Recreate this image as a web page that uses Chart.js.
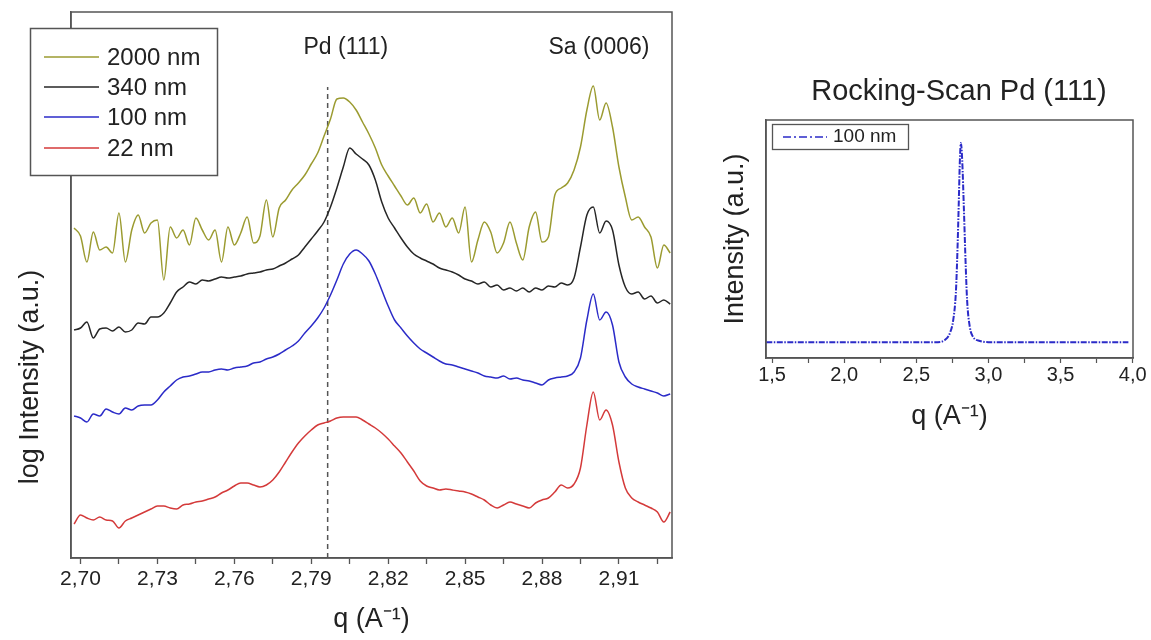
<!DOCTYPE html>
<html lang="en">
<head>
<meta charset="UTF-8">
<title>Pd (111) scans</title>
<script src="https://cdn.jsdelivr.net/npm/chart.js"></script>
<style>
  body { margin: 0; background: #fff; }
  #wrap { position: relative; width: 1151px; height: 640px; }
  #scanChart { position: absolute; left: 0; top: 0; }
  #rockChart { position: absolute; left: 700px; top: 0; }
</style>
</head>
<body>
<div id="wrap">
  <canvas id="scanChart" width="700" height="640"></canvas>
  <canvas id="rockChart" width="451" height="460"></canvas>
</div>
<script>
// q grid (A^-1) shared by the four radial scans
const q = [
  2.6975, 2.7000, 2.7025, 2.7050, 2.7075, 2.7100, 2.7125, 2.7150, 2.7175, 2.7200,
  2.7225, 2.7250, 2.7275, 2.7300, 2.7325, 2.7350, 2.7375, 2.7400, 2.7425, 2.7450,
  2.7475, 2.7500, 2.7525, 2.7550, 2.7575, 2.7600, 2.7625, 2.7650, 2.7675, 2.7700,
  2.7725, 2.7750, 2.7775, 2.7800, 2.7825, 2.7850, 2.7875, 2.7900, 2.7925, 2.7950,
  2.7975, 2.8000, 2.8025, 2.8050, 2.8075, 2.8100, 2.8125, 2.8150, 2.8175, 2.8200,
  2.8225, 2.8250, 2.8275, 2.8300, 2.8325, 2.8350, 2.8375, 2.8400, 2.8425, 2.8450,
  2.8475, 2.8500, 2.8525, 2.8550, 2.8575, 2.8600, 2.8625, 2.8650, 2.8675, 2.8700,
  2.8725, 2.8750, 2.8775, 2.8800, 2.8825, 2.8850, 2.8875, 2.8900, 2.8925, 2.8950,
  2.8975, 2.9000, 2.9025, 2.9050, 2.9075, 2.9100, 2.9125, 2.9150, 2.9175, 2.9200,
  2.9225, 2.9250, 2.9275, 2.9300
];

// log intensity (a.u., curves offset vertically)
const y2000 = [
  330, 322, 296, 326, 308, 311, 305, 345, 296, 328,
  343, 325, 335, 338, 278, 331, 320, 328, 313, 340,
  328, 318, 328, 296, 331, 313, 325, 341, 315, 322,
  358, 321, 350, 358, 368, 375, 383, 394, 405, 422,
  439, 459, 460, 456, 448, 436, 424, 410, 393, 382,
  372, 362, 353, 360, 345, 354, 336, 345, 331, 340,
  325, 351, 296, 318, 336, 326, 305, 315, 336, 315,
  298, 331, 346, 316, 321, 363, 370, 375, 388, 411,
  448, 472, 438, 455, 431, 391, 361, 338, 341, 331,
  321, 290, 313, 305
];
const y340 = [
  228, 230, 236, 220, 229, 230, 227, 231, 226, 228,
  235, 234, 241, 241, 245, 255, 266, 271, 276, 274,
  278, 277, 279, 281, 280, 281, 282, 284, 285, 286,
  288, 289, 292, 295, 299, 303, 311, 319, 327, 336,
  351, 370, 391, 410, 404, 399, 393, 378, 356, 340,
  330, 320, 311, 304, 300, 297, 294, 290, 288, 286,
  283, 279, 277, 274, 276, 271, 273, 268, 270, 267,
  270, 266, 270, 268, 272, 271, 275, 273, 280, 311,
  343, 351, 325, 337, 328, 293, 271, 264, 266, 259,
  262, 255, 258, 254
];
const y100 = [
  142, 140, 136, 144, 142, 149, 146, 144, 150, 148,
  152, 153, 153, 158, 166, 172, 178, 181, 182, 184,
  186, 186, 188, 189, 188, 190, 191, 192, 195, 196,
  199, 201, 204, 208, 212, 217, 225, 232, 240, 250,
  263, 278, 294, 304, 308, 304, 297, 284, 268, 252,
  238, 230, 222, 215, 209, 205, 201, 197, 194, 193,
  191, 189, 187, 185, 182, 181, 180, 182, 179, 180,
  178, 177, 175, 173, 178, 180, 181, 182, 186, 200,
  238, 264, 238, 246, 233, 196, 181, 174, 171, 169,
  167, 165, 162, 164
];
const y22 = [
  34, 43, 40, 38, 41, 38, 37, 30, 37, 40,
  43, 46, 49, 52, 52, 50, 49, 53, 54, 56,
  57, 59, 61, 65, 68, 72, 75, 75, 73, 71,
  73, 78, 86, 96, 106, 115, 122, 128, 133, 135,
  137, 140, 141, 141, 141, 138, 134, 130, 125, 119,
  112, 105, 96, 87, 77, 72, 70, 68, 69, 68,
  67, 66, 64, 61, 58, 53, 50, 53, 56, 54,
  52, 50, 55, 58, 60, 66, 73, 70, 74, 90,
  133, 166, 138, 148, 133, 96, 70, 60, 56, 53,
  50, 46, 36, 46
];

const pdBulkQ = 2.7964;
const pdLineTop = 471;
const peakNames = ['Pd (111)', 'Sa (0006)'];
const peakNameQ = [2.8035, 2.9022];
const peakNameLevel = 510;

// rocking scan, 100 nm film
const rockQ = [
  1.46, 1.50, 1.60, 1.70, 1.80, 1.90, 2.00, 2.10, 2.20, 2.30, 2.40, 2.50, 2.60, 2.65,
  2.698, 2.733, 2.756, 2.774, 2.783, 2.793, 2.802, 2.809, 2.818, 2.830, 2.841, 2.852,
  2.871, 2.894, 2.940,
  3.00, 3.10, 3.20, 3.30, 3.40, 3.50, 3.60, 3.70, 3.80, 3.90, 3.97
];
const rockI = [
  80, 80, 80, 80, 80, 80, 80, 80, 80, 80, 80, 80, 80, 80,
  91, 126, 192, 328, 494, 746, 998, 1084, 998, 746, 494, 292,
  156, 106, 86,
  80, 80, 80, 80, 80, 80, 80, 80, 80, 80, 80
];

const FONT = '"Liberation Sans", Arial, sans-serif';
Chart.defaults.font.family = FONT;
Chart.defaults.color = '#222';

const series = [
  { label: '2000 nm', values: y2000, color: '#9b9b30' },
  { label: '340 nm', values: y340, color: '#262626' },
  { label: '100 nm', values: y100, color: '#2b2bc8' },
  { label: '22 nm', values: y22, color: '#d43a3a' }
];

const toXY = (xs, ys) => xs.map((x, i) => ({ x: x, y: ys[i] }));
const comma = (v, d) => v.toFixed(d).replace('.', ',');

const framePlugin = {
  id: 'frame',
  afterDatasetsDraw(chart) {
    const { ctx, chartArea: a } = chart;
    ctx.save();
    ctx.strokeStyle = '#555';
    ctx.lineWidth = 1.5;
    ctx.strokeRect(a.left, a.top, a.right - a.left, a.bottom - a.top);
    ctx.restore();
  }
};

const scanExtras = {
  id: 'scanExtras',
  afterDraw(chart) {
    const { ctx, scales: { x, y } } = chart;
    ctx.save();
    ctx.fillStyle = '#222';
    ctx.textAlign = 'center';
    ctx.textBaseline = 'middle';
    ctx.font = '23px ' + FONT;
    peakNames.forEach((t, i) => {
      ctx.fillText(t, x.getPixelForValue(peakNameQ[i]), y.getPixelForValue(peakNameLevel));
    });

    ctx.save();
    ctx.translate(31, 377);
    ctx.rotate(-Math.PI / 2);
    ctx.font = '27px ' + FONT;
    ctx.fillText('log Intensity (a.u.)', 0, 0);
    ctx.restore();

    // legend box
    ctx.fillStyle = '#fff';
    ctx.fillRect(30, 28, 187, 147);
    ctx.strokeStyle = '#555';
    ctx.lineWidth = 1.5;
    ctx.strokeRect(30.5, 28.5, 187, 147);
    const rows = [57, 87, 117, 148];
    ctx.font = '24px ' + FONT;
    ctx.textAlign = 'left';
    series.forEach((s, i) => {
      ctx.strokeStyle = s.color;
      ctx.beginPath();
      ctx.moveTo(44, rows[i]);
      ctx.lineTo(99, rows[i]);
      ctx.stroke();
      ctx.fillStyle = '#222';
      ctx.fillText(s.label, 107, rows[i] + 1);
    });
    ctx.restore();
  }
};

new Chart(document.getElementById('scanChart'), {
  type: 'line',
  data: {
    datasets: series.map(s => ({
      label: s.label,
      data: toXY(q, s.values),
      borderColor: s.color,
      borderWidth: 1.5,
      pointRadius: 0,
      cubicInterpolationMode: 'monotone'
    })).concat([{
      label: 'Pd bulk',
      data: [{ x: pdBulkQ, y: 0 }, { x: pdBulkQ, y: pdLineTop }],
      borderColor: '#555',
      borderWidth: 1.5,
      borderDash: [5, 4],
      pointRadius: 0
    }])
  },
  options: {
    responsive: false,
    animation: false,
    layout: { padding: { top: 12, right: 28, left: 0, bottom: 0 } },
    plugins: { legend: { display: false }, tooltip: { enabled: false } },
    scales: {
      x: {
        type: 'linear',
        min: 2.6963,
        max: 2.9307,
        afterFit: s => { s.height = 82; },
        ticks: {
          stepSize: 0.015,
          includeBounds: false,
          autoSkip: false,
          maxRotation: 0,
          padding: 3,
          color: '#222',
          font: { size: 21 },
          callback: v => Math.round((v - 2.70) / 0.015) % 2 === 0 ? comma(v, 2) : ''
        },
        grid: { drawOnChartArea: false, tickLength: 6, color: '#555', tickWidth: 1.3 },
        border: { color: '#555', width: 1.5 },
        title: { display: true, text: 'q (A⁻¹)', font: { size: 27 }, color: '#222', padding: { top: 0, bottom: 4 } }
      },
      y: {
        min: 0,
        max: 546,
        afterFit: s => { s.width = 71; },
        ticks: { display: false },
        grid: { display: false },
        border: { color: '#555', width: 1.5 }
      }
    }
  },
  plugins: [framePlugin, scanExtras]
});

const rockExtras = {
  id: 'rockExtras',
  afterDraw(chart) {
    const { ctx } = chart;
    ctx.save();
    ctx.fillStyle = '#222';
    ctx.textBaseline = 'middle';
    ctx.textAlign = 'center';
    ctx.font = '29px ' + FONT;
    ctx.fillText('Rocking-Scan Pd (111)', 259, 92);

    ctx.fillStyle = '#fff';
    ctx.fillRect(72, 124, 136, 25);
    ctx.strokeStyle = '#555';
    ctx.lineWidth = 1.3;
    ctx.strokeRect(72.5, 124.5, 136, 25);
    ctx.strokeStyle = '#2b2bc8';
    ctx.lineWidth = 1.3;
    ctx.setLineDash([8, 3, 2, 3]);
    ctx.beginPath();
    ctx.moveTo(83, 137);
    ctx.lineTo(127, 137);
    ctx.stroke();
    ctx.setLineDash([]);
    ctx.fillStyle = '#222';
    ctx.textAlign = 'left';
    ctx.font = '19px ' + FONT;
    ctx.fillText('100 nm', 133, 137);
    ctx.restore();
  }
};

new Chart(document.getElementById('rockChart'), {
  type: 'line',
  data: {
    datasets: [{
      label: '100 nm',
      data: toXY(rockQ, rockI),
      borderColor: '#2b2bc8',
      borderWidth: 2,
      borderDash: [6, 1.5, 1.5, 1.5],
      pointRadius: 0,
      cubicInterpolationMode: 'monotone'
    }]
  },
  options: {
    responsive: false,
    animation: false,
    layout: { padding: { top: 120, right: 18, left: 0, bottom: 0 } },
    plugins: { legend: { display: false }, tooltip: { enabled: false } },
    scales: {
      x: {
        type: 'linear',
        min: 1.458,
        max: 4.002,
        afterFit: s => { s.height = 102; },
        ticks: {
          stepSize: 0.25,
          includeBounds: false,
          autoSkip: false,
          maxRotation: 0,
          padding: 0,
          color: '#222',
          font: { size: 20 },
          callback: v => Math.round(v * 4) % 2 === 0 ? comma(v, 1) : ''
        },
        grid: { drawOnChartArea: false, tickLength: 5, color: '#555', tickWidth: 1.2 },
        border: { color: '#555', width: 1.5 },
        title: { display: true, text: 'q (A⁻¹)', font: { size: 27 }, color: '#222', padding: { top: 0, bottom: 27 } }
      },
      y: {
        min: 0,
        max: 1200,
        afterFit: s => { s.width = 66; },
        ticks: { display: false },
        grid: { display: false },
        border: { color: '#555', width: 1.5 },
        title: { display: true, text: 'Intensity (a.u.)', font: { size: 27 }, color: '#222', padding: { top: 19, bottom: 0 } }
      }
    }
  },
  plugins: [framePlugin, rockExtras]
});
</script>
</body>
</html>
